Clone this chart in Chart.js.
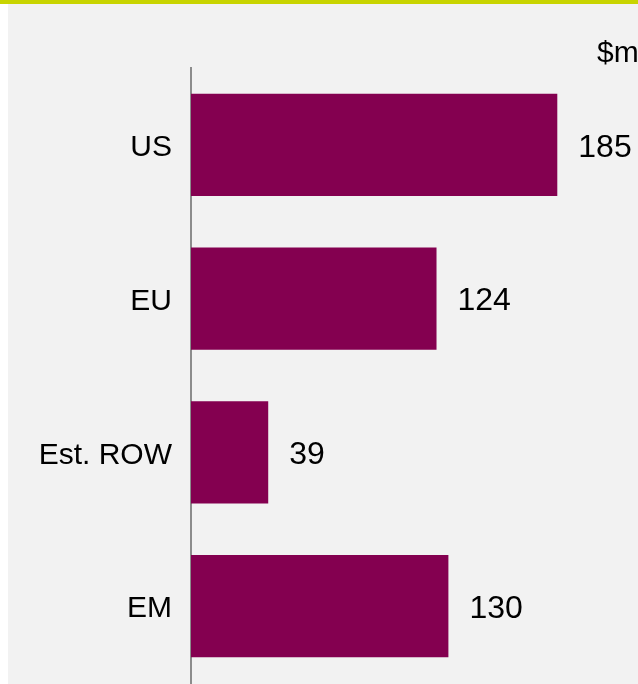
<!DOCTYPE html>
<html>
<head>
<meta charset="utf-8">
<script src="https://cdn.jsdelivr.net/npm/chart.js@4/dist/chart.umd.min.js"></script>
<style>
  html, body { margin: 0; padding: 0; background: #ffffff; overflow: hidden; }
  .frame { position: relative; width: 638px; height: 684px; overflow: hidden; }
  .topline { position: absolute; left: 0; top: 0; width: 638px; height: 4px; background: #c8d400; }
  .panel { position: absolute; left: 8px; top: 4px; width: 630px; height: 680px; background: #f2f2f2; }
  canvas { position: absolute; left: 0; top: 0; }
</style>
</head>
<body>
<div class="frame">
  <div class="topline"></div>
  <div class="panel"></div>
  <!-- canvas runs past the frame bottom; the axis reserves half a label there -->
  <canvas id="chart" width="638" height="720"></canvas>
</div>
<script>
;(() => {
  'use strict';

  const categories = ['US', 'EU', 'Est. ROW', 'EM'];
  const values = [185, 124, 39, 130];
  const unitLabel = '$m';

  const FONT = '"Liberation Sans", Arial, sans-serif';

  // nudge category labels a little below the bar centre, like the original
  const tickNudge = {
    id: 'tickNudge',
    afterLayout(chart) {
      const y = chart.scales.y;
      if (!y || !y.getLabelItems) return;
      const items = y.getLabelItems(chart.chartArea);
      items.forEach(it => {
        if (it.options && it.options.translation) {
          it.options.translation[1] += 3;
        }
      });
    }
  };

  const valueLabels = {
    id: 'valueLabels',
    afterDatasetsDraw(chart) {
      const ctx = chart.ctx;
      const meta = chart.getDatasetMeta(0);
      ctx.save();
      ctx.font = '32px ' + FONT;
      ctx.fillStyle = '#000000';
      ctx.textAlign = 'left';
      ctx.textBaseline = 'middle';
      meta.data.forEach((bar, i) => {
        ctx.fillText(String(values[i]), bar.x + 21, bar.y + 3);
      });
      // unit note at top right
      ctx.font = '30px ' + FONT;
      ctx.fillText(unitLabel, 597, 54);
      ctx.restore();
    }
  };

  new Chart(document.getElementById('chart').getContext('2d'), {
    type: 'bar',
    data: {
      labels: categories,
      datasets: [{
        data: values,
        backgroundColor: '#840050',
        borderWidth: 0,
        categoryPercentage: 1,
        barPercentage: 0.665
      }]
    },
    options: {
      indexAxis: 'y',
      responsive: false,
      animation: false,
      events: [],
      layout: { padding: { top: 68, right: 51, bottom: 0, left: 0 } },
      plugins: {
        legend: { display: false },
        tooltip: { enabled: false }
      },
      scales: {
        x: {
          display: false,
          min: 0,
          max: 200
        },
        y: {
          afterFit(scale) { scale.width = 191; },
          grid: { display: false, drawTicks: false },
          border: { display: true, color: '#8c8c8c', width: 2 },
          ticks: {
            padding: 19,
            color: '#000000',
            font: { family: FONT, size: 30 }
          }
        }
      }
    },
    plugins: [tickNudge, valueLabels]
  });
})();
</script>
</body>
</html>
